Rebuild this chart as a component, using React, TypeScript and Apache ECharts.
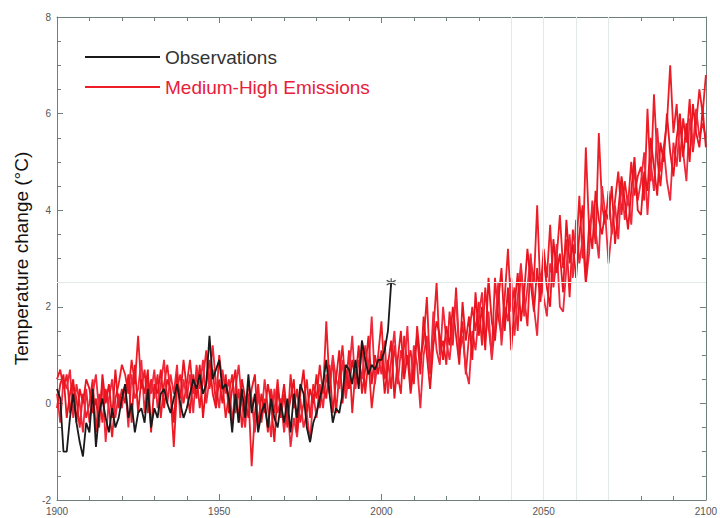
import React, { useEffect, useRef } from "react";
import * as echarts from "echarts";

// Observed series, one value per year from OBS_START
const OBS_START = 1900;
const observations = [
  0.3, 0.1, -1.0, -1.0, -0.3, 0.2, -0.4, -0.8, -1.1, -0.4,
  -0.6, 0.3, -0.9, -0.2, 0.1, -0.3, -0.6, -0.1, -0.5, -0.3,
  0.1, 0.4, -0.3, 0.0, -0.6, -0.2, -0.1, -0.4, 0.3, -0.5,
  -0.1, -0.3, 0.2, 0.3, 0.0, -0.2, 0.1, 0.4, 0.0, -0.3,
  -0.1, 0.2, 0.5, 0.3, 0.6, 0.2, 0.4, 1.4, 0.5, 0.7,
  0.9, 0.3, 0.4, 0.1, -0.6, 0.2, -0.4, 0.3, -0.3, 0.6,
  -0.2, 0.2, -0.6, -0.2, 0.0, -0.5, 0.1, -0.3, -0.5, 0.0,
  -0.4, 0.1, -0.6, 0.2, -0.3, 0.4, 0.2, -0.5, -0.8, -0.4,
  -0.2, 0.1, 0.4, 0.9, 0.2, -0.4, -0.1, -0.2, 0.2, 0.8,
  0.7, 0.4, 0.9, 0.3, 1.3, 0.9, 0.6, 0.8, 0.7, 0.9,
  0.9, 1.1, 1.5, 2.5,
];

// Model runs (Medium-High Emissions), one value per year from RUN_START
const RUN_START = 1900;
const runA = [
  0.5, 0.7, 0.3, 0.6, -0.2, 0.4, 0.1, -0.5, 0.2, -0.3,
  0.0, 0.5, -0.6, 0.2, -0.4, 0.3, -0.1, -0.7, 0.1, 0.4,
  0.8, 0.6, 0.2, 0.9, 0.4, 1.4, 0.3, 0.7, -0.2, 0.5,
  0.1, 0.6, -0.3, 0.4, 0.8, 0.2, -0.9, 0.3, 0.6, 0.0,
  0.4, 0.9, 0.2, 0.6, -0.1, 0.5, 1.1, 0.3, 0.7, 0.0,
  1.0, 0.4, -0.3, 0.2, 0.6, -0.2, 0.3, -0.5, 0.1, 0.2,
  -1.3, -0.2, 0.4, -0.4, 0.1, -0.6, 0.3, -0.2, 0.5, -0.3,
  0.2, -0.5, 0.6, -0.1, 0.3, -0.4, 0.0, 0.5, -0.3, 0.4,
  0.1, 0.8, 0.2, 1.7, 0.4, 0.9, -0.2, 0.6, 1.2, 0.3,
  1.1, -0.2, 0.7, 0.4, 1.3, 0.2, 0.9, -0.1, 0.5, 1.0,
  1.7, 0.5, 0.9, 0.3, 1.2, 0.6, 0.2, 1.4, 0.8, 1.1,
  0.4, 1.6, 0.9, 1.3, 2.2, 0.7, 1.5, 2.5, 1.0, 1.3,
  0.8, 1.9, 1.2, 2.4, 1.1, 1.7, 0.6, 1.4, 2.0, 1.5,
  2.1, 1.2, 2.4, 1.6, 1.0, 2.6, 1.8, 1.4, 2.2, 3.2,
  1.9, 2.4, 1.5, 2.8, 2.2, 1.6, 3.0, 2.5, 4.1, 2.3,
  3.2, 2.6, 3.7, 2.4, 3.0, 3.9, 2.8, 3.4, 2.2, 3.6,
  3.1, 4.3, 3.0, 5.3, 3.6, 4.0, 3.3, 5.6, 4.1, 3.7,
  4.4, 3.5, 4.2, 4.8, 3.9, 4.6, 4.1, 5.0, 4.3, 4.7,
  4.9, 4.2, 6.1, 4.6, 6.4, 5.1, 4.5, 5.3, 5.8, 7.0,
  5.6, 6.2, 5.0, 5.9, 5.4, 6.3, 5.2, 5.8, 6.5, 6.0,
  6.8,
];
const runB = [
  0.2, -0.4, 0.5, 0.3, 0.7, -0.3, 0.4, 0.0, -0.6, 0.3,
  -0.4, 0.2, 0.6, -0.2, 0.4, -0.8, 0.1, 0.5, -0.3, 0.2,
  -0.1, 0.4, -0.5, 0.6, 0.1, 0.3, 0.9, -0.2, 0.5, 0.2,
  0.7, -0.1, 0.4, 0.9, 0.0, 0.6, 0.2, 0.8, -0.3, 0.5,
  0.1, 0.6, -0.2, 0.8, 0.3, 0.9, 0.0, 0.5, 1.2, 0.4,
  -0.1, 0.7, 0.2, 0.5, -0.4, 0.3, 0.8, 0.0, -0.5, 0.4,
  0.1, -0.6, 0.2, -0.3, 0.5, -0.1, -0.7, 0.3, -0.2, 0.1,
  -0.6, 0.0, -0.9, -0.3, -0.7, 0.1, -0.5, -0.2, -0.8, 0.2,
  -0.3, 0.4, -0.1, 0.6, 0.2, 1.0, 0.5, 0.3, 0.9, 0.1,
  0.6, 1.4, 0.3, 0.9, 0.5, 1.2, 0.7, 1.8, 0.4, 1.0,
  0.6, 1.3, 0.2, 0.9, 1.5, 0.4, 1.1, 0.7, 1.6, 0.3,
  1.2, 0.8, -0.1, 1.0, 1.4, 0.6, 1.9, 1.1, 0.8, 2.0,
  1.3, 0.9, 1.6, 2.2, 1.0, 1.4, 0.7, 0.4, 1.5, 1.1,
  1.8, 2.3, 1.3, 1.9, 0.9, 1.6, 2.5, 1.2, 2.0, 1.7,
  2.6, 1.4, 2.2, 2.9, 1.8, 2.4, 3.1, 2.0, 1.4, 2.7,
  2.2, 1.8, 2.9, 2.5, 3.3, 2.0, 1.9, 2.8, 3.5, 2.6,
  3.8, 2.9, 3.4, 2.5, 3.1, 4.2, 3.6, 3.0, 4.5, 3.9,
  2.9, 3.6, 4.1, 3.4, 4.6, 3.8, 4.3, 3.7, 4.9, 4.2,
  4.6, 5.2, 3.9, 5.0, 4.4, 5.7, 4.8, 5.3, 4.6, 4.2,
  5.4, 4.9, 5.8, 5.2, 4.6, 5.9, 5.3, 6.1, 5.5, 5.8,
  5.5,
];
const runC = [
  -0.1, 0.4, 0.6, -0.3, 0.2, 0.5, -0.4, 0.3, 0.0, 0.5,
  0.3, -0.2, 0.1, -0.5, 0.6, 0.0, 0.4, -0.3, 0.7, -0.1,
  0.3, 0.0, 0.6, -0.4, 0.8, -0.2, 0.5, 0.2, 0.7, -0.6,
  0.4, 0.2, 0.7, -0.1, 0.5, 0.3, -0.4, 0.6, 0.1, 0.9,
  0.3, -0.2, 0.6, 0.1, 0.8, -0.3, 0.4, 0.9, 0.2, -0.1,
  0.5, 0.0, 0.6, -0.2, 0.3, 0.7, -0.4, 0.5, 0.1, -0.3,
  0.3, 0.6, -0.5, 0.2, -0.2, 0.4, 0.0, -0.8, 0.3, -0.1,
  0.4, -0.3, 0.1, 0.5, -0.6, 0.2, 0.7, -0.2, 0.3, 0.0,
  0.6, -0.1, 0.4, 0.1, 0.8, -0.2, 0.5, 1.1, 0.0, 0.7,
  0.3, 0.9, 0.5, 1.2, 0.2, 0.7, 1.4, 0.4, 1.0, 0.6,
  1.1, 0.2, 0.8, 1.3, 0.1, 0.9, 1.5, 0.5, 1.0, 0.2,
  0.8, 1.4, 0.6, 1.8, 1.0, 0.3, 1.2, 1.7, 1.4, 0.9,
  1.6, 1.2, 2.0, 1.4, 0.8, 2.1, 1.3, 1.8, 0.9, 2.3,
  1.4, 2.0, 1.1, 2.6, 1.7, 1.3, 2.1, 2.8, 1.5, 2.4,
  1.1, 2.0, 2.7, 1.7, 2.3, 3.2, 2.5, 1.9, 2.8, 2.1,
  3.0, 2.4, 2.0, 3.4, 2.7, 3.1, 2.3, 3.8, 2.9, 3.3,
  2.6, 3.5, 4.1, 2.5, 3.7, 3.2, 4.4, 3.8, 3.5, 4.0,
  3.8, 4.5, 3.3, 4.0, 4.7, 4.2, 3.6, 4.4, 5.1, 4.0,
  3.9, 4.8, 4.4, 5.5, 4.9, 4.3, 5.4, 5.0, 6.0, 5.2,
  4.7, 5.5, 6.0, 5.1, 5.8, 5.0, 6.2, 5.6, 5.3, 6.1,
  5.3,
];

const starPoint = [2003, 2.5];
const refYears = [2040, 2050, 2060, 2070];
const refTemp = 2.5;

const X_MIN = 1900;
const X_MAX = 2100;
const Y_MIN = -2;
const Y_MAX = 8;

const OBS_NAME = "Observations";
const RUN_NAME = "Medium-High Emissions";

const toPairs = (start: number, vals: number[]) => vals.map((v, i) => [start + i, v]);

const AXIS_COLOR = "#6f7f7c";
const LABEL_FONT = "'Liberation Sans Narrow', 'Liberation Sans', Arial, sans-serif";

export default function App() {
  const ref = useRef<HTMLDivElement>(null);
  useEffect(() => {
    if (!ref.current) return;
    const chart = echarts.init(ref.current, undefined, { renderer: "svg" });

    const axisCommon = () => ({
      axisLine: { show: true, onZero: false, lineStyle: { color: AXIS_COLOR, width: 1 } },
      axisTick: { show: true, inside: true, length: 6, lineStyle: { color: AXIS_COLOR } },
      splitLine: { show: false },
    });

    const redColors = ["#ee1c25", "#f0283c", "#e8141e"];
    const runs = [runA, runB, runC];

    chart.setOption({
      animation: false,
      backgroundColor: "#ffffff",
      grid: { left: 57, right: 12, top: 17, bottom: 18 },
      legend: {
        data: [
          { name: OBS_NAME, textStyle: { color: "#333333" } },
          { name: RUN_NAME, textStyle: { color: "#e8203a" } },
        ],
        orient: "vertical",
        left: 85,
        top: 47,
        padding: 0,
        icon: "rect",
        itemWidth: 75,
        itemHeight: 2,
        itemGap: 10,
        textStyle: { fontSize: 19, lineHeight: 20, fontFamily: "'Liberation Sans', Arial, sans-serif" },
        selectedMode: false,
      },
      xAxis: [
        {
          type: "value",
          min: X_MIN,
          max: X_MAX,
          interval: 50,
          position: "bottom",
          ...axisCommon(),
          minorTick: { show: true, splitNumber: 5, length: 4, lineStyle: { color: AXIS_COLOR } },
          axisLabel: {
            show: true,
            fontSize: 10,
            color: "#555",
            margin: 6,
            fontFamily: LABEL_FONT,
            formatter: (v: number) => String(v),
          },
        },
        {
          type: "value",
          min: X_MIN,
          max: X_MAX,
          interval: 50,
          position: "top",
          ...axisCommon(),
          axisLabel: { show: false },
          minorTick: { show: true, splitNumber: 5, length: 4, lineStyle: { color: AXIS_COLOR } },
        },
      ],
      yAxis: [
        {
          type: "value",
          min: Y_MIN,
          max: Y_MAX,
          interval: 2,
          position: "left",
          ...axisCommon(),
          minorTick: { show: true, splitNumber: 4, length: 4, lineStyle: { color: AXIS_COLOR } },
          axisLabel: { show: true, fontSize: 10, color: "#555", margin: 6, fontFamily: LABEL_FONT },
          name: "Temperature change (°C)",
          nameLocation: "middle",
          nameGap: 24,
          nameTextStyle: { fontSize: 19, color: "#111", fontFamily: "'Liberation Sans', Arial, sans-serif" },
        },
        {
          type: "value",
          min: Y_MIN,
          max: Y_MAX,
          interval: 2,
          position: "right",
          ...axisCommon(),
          axisLabel: { show: false },
          minorTick: { show: true, splitNumber: 4, length: 4, lineStyle: { color: AXIS_COLOR } },
        },
      ],
      series: [
        {
          type: "line",
          name: "ref",
          data: [],
          z: 1,
          silent: true,
          markLine: {
            silent: true,
            symbol: "none",
            label: { show: false },
            lineStyle: { color: "#e2eae7", width: 1, type: "solid" },
            data: [...refYears.map((y) => ({ xAxis: y })), { yAxis: refTemp }],
          },
        },
        ...runs.map((r, i) => ({
          type: "line",
          name: RUN_NAME,
          data: toPairs(RUN_START, r),
          showSymbol: false,
          symbol: "none",
          z: 2,
          color: redColors[i],
          itemStyle: { color: "#ee1c25" },
          lineStyle: { color: redColors[i], width: 1.8 },
        })),
        {
          type: "line",
          name: OBS_NAME,
          data: toPairs(OBS_START, observations),
          showSymbol: false,
          symbol: "none",
          z: 3,
          color: "#1a1a1a",
          itemStyle: { color: "#1a1a1a" },
          lineStyle: { color: "#1a1a1a", width: 1.8 },
        },
        {
          type: "scatter",
          name: "star",
          data: [starPoint],
          z: 4,
          symbol: "path://M0,-5 L0,5 M-4.3,-2.5 L4.3,2.5 M-4.3,2.5 L4.3,-2.5",
          symbolSize: 9,
          itemStyle: { color: "none", borderColor: "#222", borderWidth: 1.2 },
        },
      ],
    });
    return () => chart.dispose();
  }, []);
  return <div ref={ref} style={{ position: "fixed", left: 0, top: 0, width: 720, height: 518 }} />;
}
